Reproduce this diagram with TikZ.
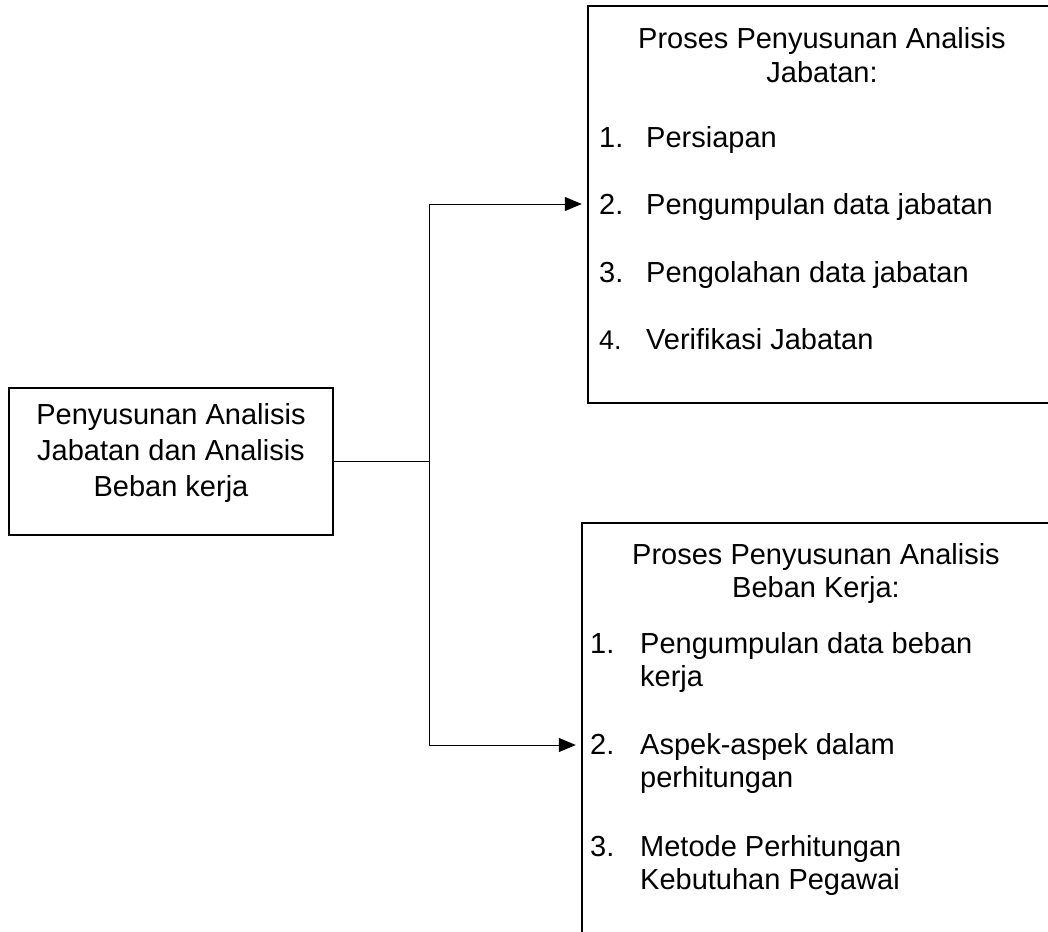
\documentclass[tikz,border=0pt]{standalone}
\usepackage{fontspec}
\setmainfont{Liberation Sans}
\usepackage{tikz}
\usetikzlibrary{arrows.meta,positioning,calc}
\tikzset{
  kotak/.style={draw=black,line width=2pt,inner sep=0pt},
  bidang/.style={inner sep=0pt},
  sisi/.style={draw=black,line width=2pt},
  teks/.style={font=\fontsize{29}{34}\selectfont,inner sep=0pt,anchor=base west},
  judul/.style={font=\fontsize{29}{34}\selectfont,inner sep=0pt,anchor=base},
  garis/.style={line width=1pt},
  panah/.style={garis,-{Triangle[length=17pt,width=14pt]},shorten >=6pt}
}

\begin{document}
\begin{tikzpicture}[x=1pt,y=-1pt]
\useasboundingbox (0,0) rectangle (1048,931);
\clip (0,0) rectangle (1048,931);
% kotak utama
\node[kotak,minimum width=324pt,minimum height=147pt] (utama) at (171,461.5) {};
\node[judul] (u1) at (171,424) {Penyusunan Analisis};
\node[judul] (u2) at (171,460) {Jabatan dan Analisis};
\node[judul] (u3) at (171,496) {Beban kerja};
% analisis jabatan (terpotong di kanan)
\node[bidang,minimum width=612pt,minimum height=397pt] (jabatan) at (894,204.5) {};
\draw[sisi] (jabatan.north east) -- (jabatan.north west) -- (jabatan.south west) -- (jabatan.south east);
\node[judul] (j0) at (822,49) {Proses Penyusunan Analisis};
\node[judul] (j00) at (822,83) {Jabatan:};
\node[teks] (jn1) at (599,147) {1.}; \node[teks] (j1) at (646,147) {Persiapan};
\node[teks] (jn2) at (599,214) {2.}; \node[teks] (j2) at (646,214) {Pengumpulan data jabatan};
\node[teks] (jn3) at (599,282) {3.}; \node[teks] (j3) at (646,282) {Pengolahan data jabatan};
\node[teks,font=\fontsize{27}{32}\selectfont] (jn4) at (599,349) {4.}; \node[teks] (j4) at (646,349) {Verifikasi Jabatan};
% analisis beban kerja (terpotong di kanan dan bawah)
\node[bidang,minimum width=618pt,minimum height=457pt] (beban) at (891,751.5) {};
\draw[sisi] (beban.north east) -- (beban.north west) -- (beban.south west);
\node[judul] (b0) at (816,564) {Proses Penyusunan Analisis};
\node[judul] (b00) at (816,597) {Beban Kerja:};
\node[teks] (bn1) at (590,653) {1.}; \node[teks] (b1) at (640,653) {Pengumpulan data beban};
\node[teks] (b1b) at (640,686) {kerja};
\node[teks] (bn2) at (590,754) {2.}; \node[teks] (b2) at (640,754) {Aspek-aspek dalam};
\node[teks] (b2b) at (640,787) {perhitungan};
\node[teks] (bn3) at (590,856) {3.}; \node[teks] (b3) at (640,856) {Metode Perhitungan};
\node[teks] (b3b) at (640,889) {Kebutuhan Pegawai};
% penghubung
\coordinate (cabang) at (429,461);
\coordinate (atas) at (429,204);
\coordinate (bawah) at (429,745);
\draw[garis] (utama.east |- cabang) -- (cabang);
\draw[garis] (atas) -- (bawah);
\draw[panah] (atas) -- (jabatan.west |- atas);
\draw[panah] (bawah) -- (beban.west |- bawah);
\end{tikzpicture}
\end{document}
